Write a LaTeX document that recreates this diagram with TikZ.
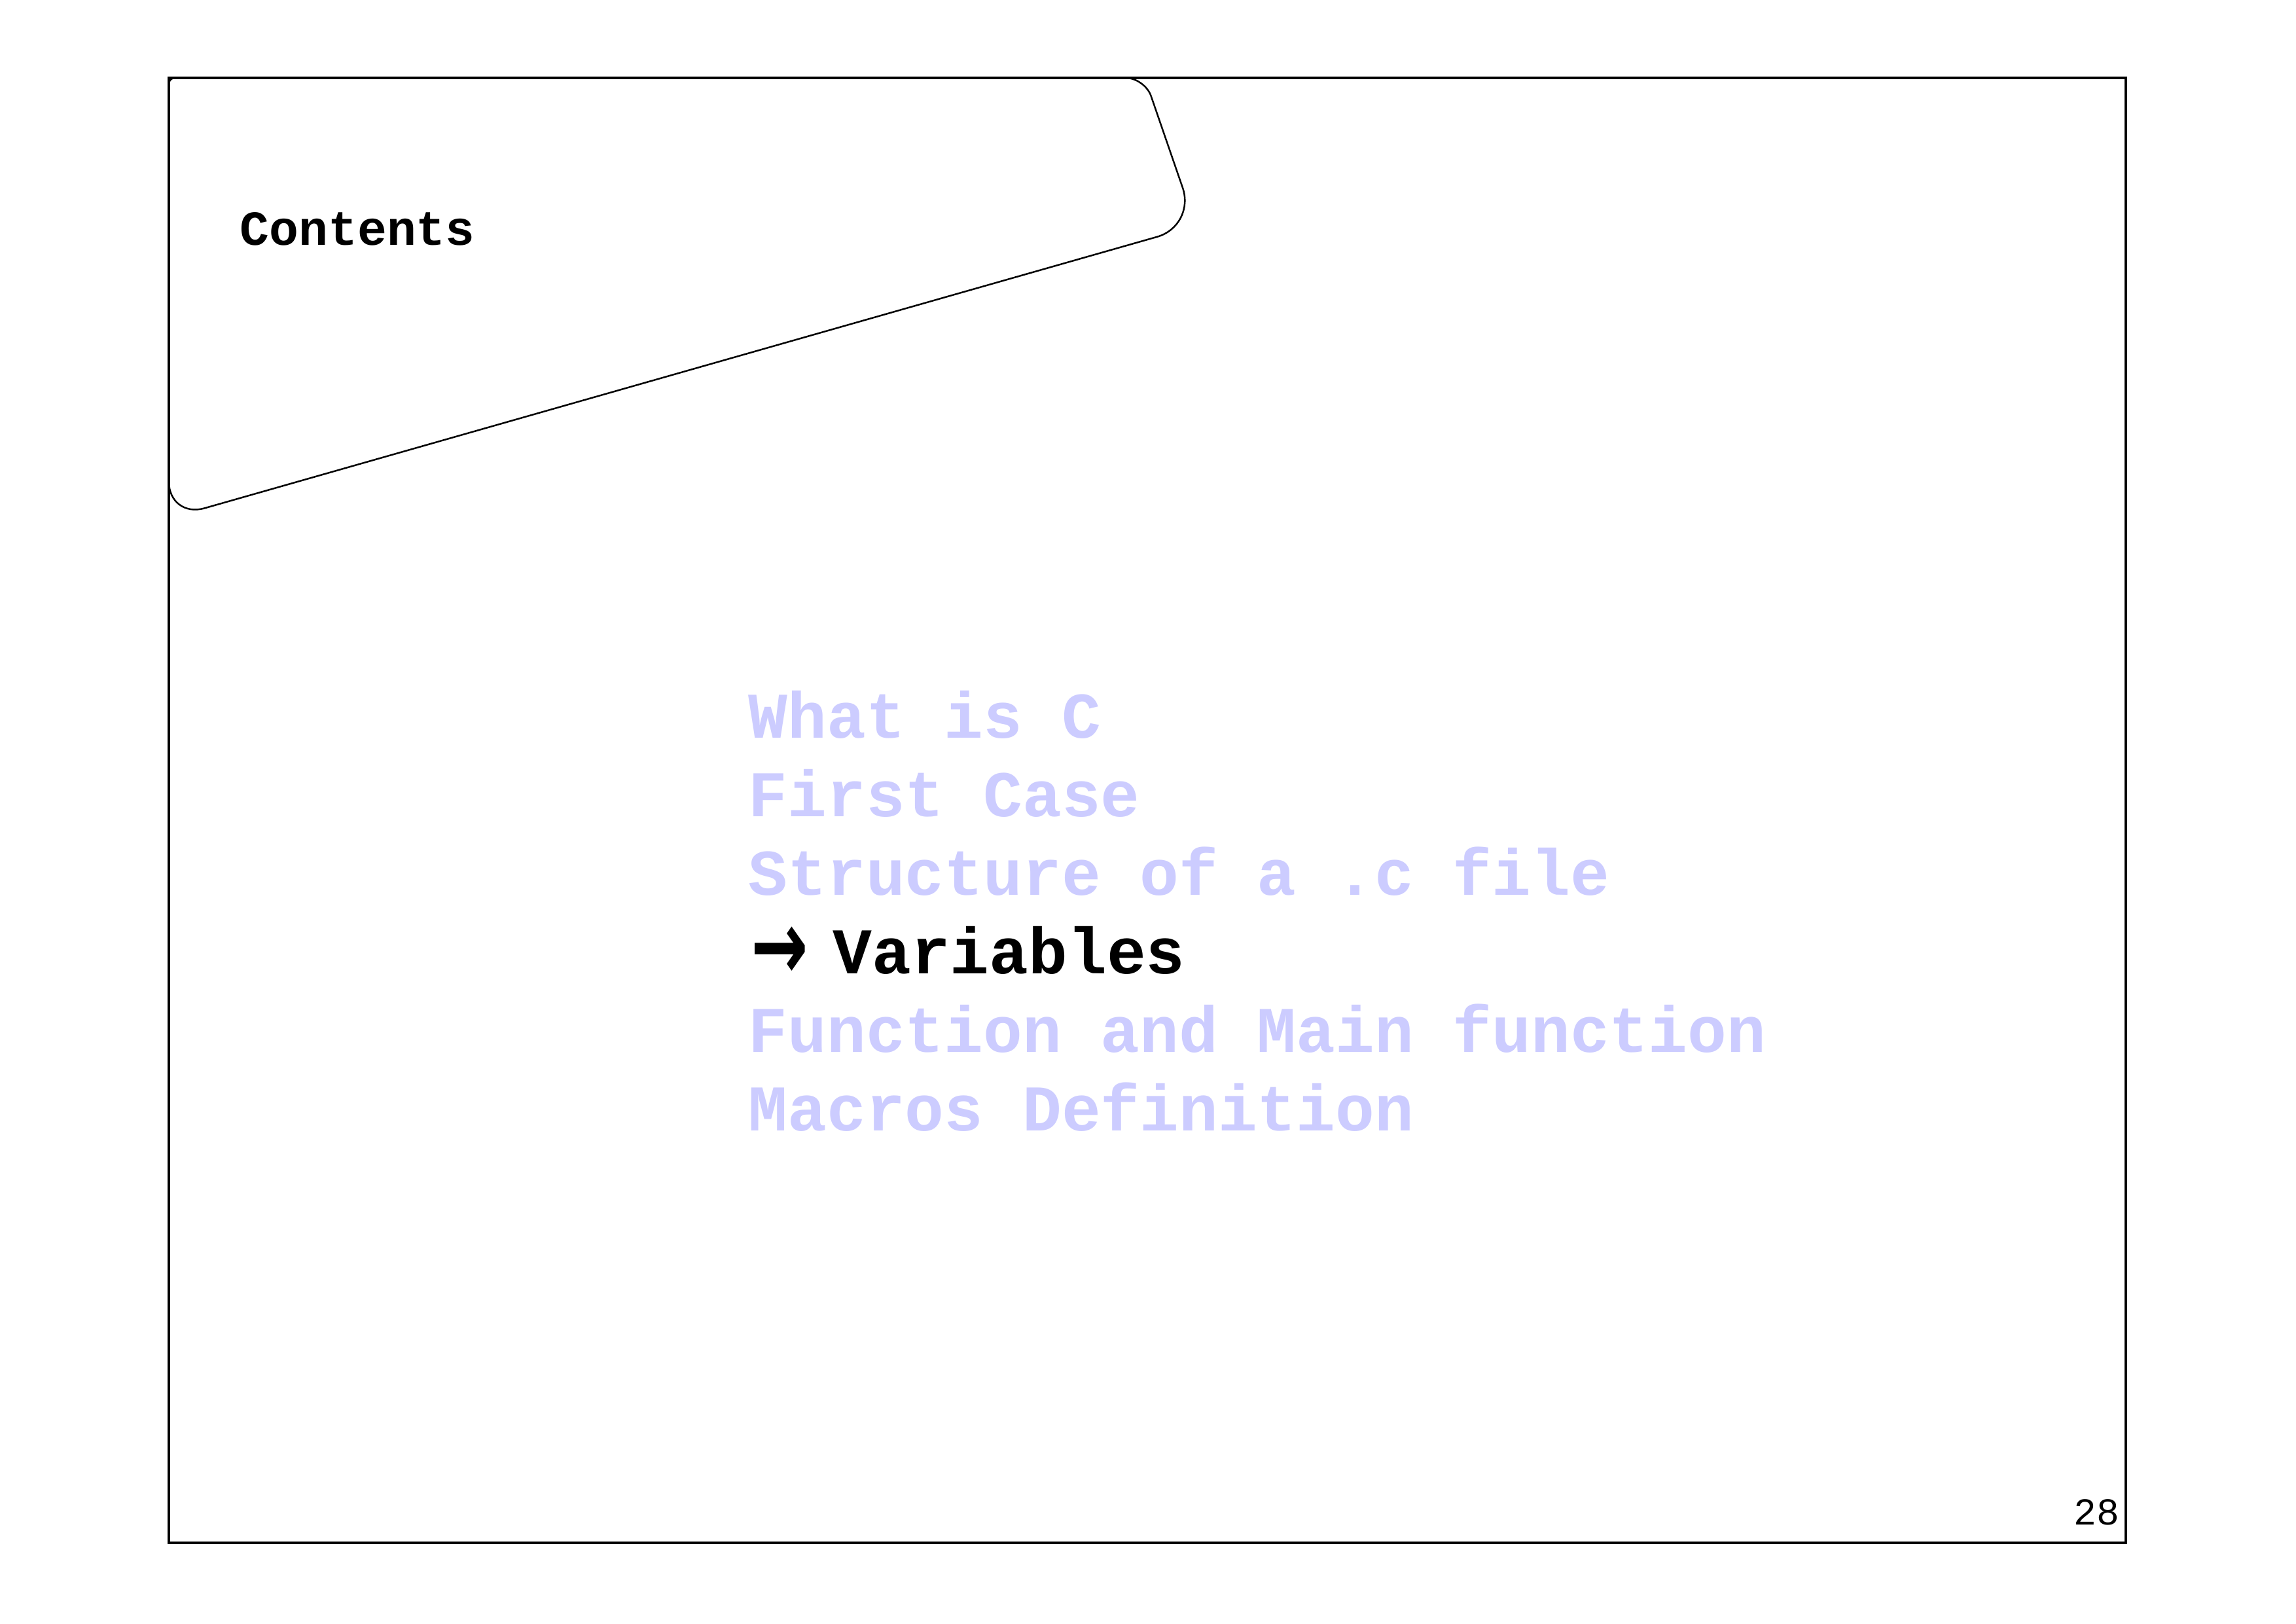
\documentclass[tikz,border=0pt]{standalone}
\usepackage{fontspec}
\setmonofont{Liberation Mono}
\newfontfamily\arrowfont{DejaVu Sans}
\usetikzlibrary{positioning}

\tikzset{
  entry/.style={anchor=base west, inner sep=0pt, text=blue!20,
    font=\ttfamily\bfseries\fontsize{24}{29}\selectfont},
  current/.style={entry, text=black}
}

\begin{document}
\begin{tikzpicture}[x=1mm, y=1mm]
        \useasboundingbox (0,0) rectangle (297,210);
        % slide frame
        \draw[line width=0.8pt] (21.84,10.45) rectangle (274.99,199.93);
        % title tab
        \draw[line width=0.6pt] (21.84,170) [rounded corners=0.8mm] -- (21.84,199.93)
            [rounded corners=2.5mm] -- (148.08,199.93)
            [rounded corners=5.2mm] -- (154.68,180.79)
            [rounded corners=4.8mm] -- (21.84,142.95) [sharp corners] -- cycle;
        \node[anchor=base west, inner sep=0pt,
              font=\ttfamily\bfseries\fontsize{18}{22}\selectfont] (title) at (31.0,178.25) {Contents};
        % outline
        \node[entry]   (whatis)    at (96.77,114.50) {What is C};
        \node[entry]   (firstcase) at (96.77,104.34) {First Case};
        \node[entry]   (structure) at (96.77, 94.18) {Structure of a .c file};
        \node[current] (variables) at (96.77, 84.02)
            {\makebox[10.9mm][l]{\hspace{0.3mm}\raisebox{-0.7mm}{\scalebox{1.05}[1.5]{\arrowfont\bfseries →}}}Variables};
        \node[entry]   (functions) at (96.77, 73.86) {Function and Main function};
        \node[entry]   (macros)    at (96.77, 63.70) {Macros Definition};
        % page number
        \node[anchor=base east, inner sep=0pt,
              font=\ttfamily\fontsize{14}{16}\selectfont] (page) at (274.2,12.81) {28};
\end{tikzpicture}
\end{document}
